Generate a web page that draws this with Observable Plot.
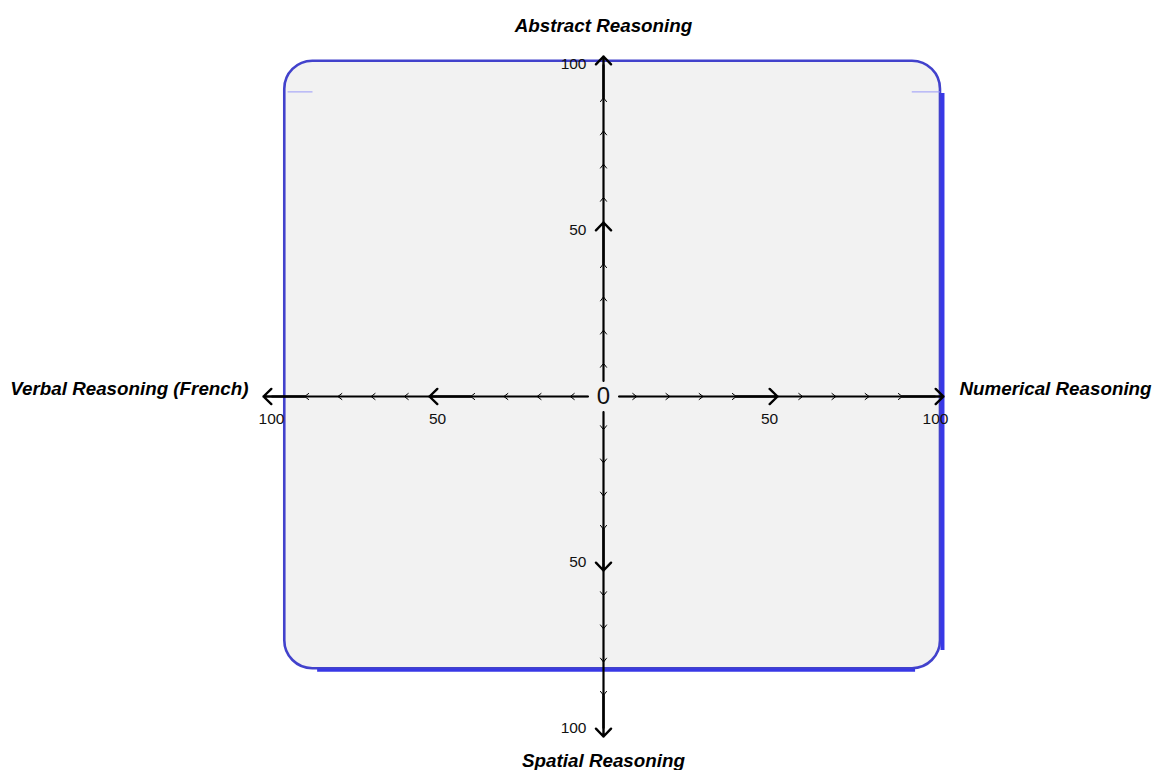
<!DOCTYPE html>
<html>
<head>
<meta charset="utf-8">
<script src="https://cdn.jsdelivr.net/npm/d3@7"></script>
<script src="https://cdn.jsdelivr.net/npm/@observablehq/plot@0.6"></script>
<style>
  html, body { margin: 0; padding: 0; background: #ffffff; }
  #chart svg { display: block; }
</style>
</head>
<body>
<div id="chart"></div>
<script>
// ---- data ----
const axisTitles = ["Abstract Reasoning", "Numerical Reasoning", "Spatial Reasoning", "Verbal Reasoning (French)"];
const directions = ["up", "right", "down", "left"];
const tickValues = [10, 20, 30, 40, 50, 60, 70, 80, 90, 100];
const majorTicks = [50, 100];
const labelValues = [50, 100];
const centerGap = 4.5;
const panelBounds = [-96, 101.5, -82, 101];      // x1, x2, y1, y2
const shadowRight = [101.5, 91.3, -76.5];          // x, y1, y2
const shadowBottom = [-82, -86.1, 94];             // y, x1, x2
const accentLines = [[91.9, -95, -87.5], [91.9, 93, 101.5]]; // y, x1, x2

// ---- build tables ----
const dirVec = {up: [0, 1], right: [1, 0], down: [0, -1], left: [-1, 0]};
const segments = [];
for (const d of directions) {
  const [ux, uy] = dirVec[d];
  tickValues.forEach((t, i) => {
    const s = i === 0 ? centerGap : tickValues[i - 1];
    segments.push({dir: d, x1: ux * s, y1: uy * s, x2: ux * t, y2: uy * t, major: majorTicks.includes(t)});
  });
}
const labels = [];
for (const d of directions) {
  const [ux, uy] = dirVec[d];
  for (const v of labelValues) labels.push({dir: d, x: ux * v, y: uy * v, text: String(v), horiz: uy === 0});
}
const titleSpecs = [
  {text: axisTitles[0], x: 0, y: 100, dx: 0, dy: -39, anchor: "middle"},
  {text: axisTitles[1], x: 100, y: 0, dx: 24, dy: -8, anchor: "start"},
  {text: axisTitles[2], x: 0, y: -100, dx: 0, dy: 32, anchor: "middle"},
  {text: axisTitles[3], x: -100, y: 0, dx: -23, dy: -8, anchor: "end"}
];
const panel = [{x1: panelBounds[0], x2: panelBounds[1], y1: panelBounds[2], y2: panelBounds[3]}];

const font = "'Liberation Sans', Arial, Helvetica, sans-serif";

const plot = Plot.plot({
  width: 1152,
  height: 770,
  marginLeft: 271,
  marginRight: 217,
  marginTop: 64,
  marginBottom: 42,
  x: {domain: [-100, 100], axis: null},
  y: {domain: [-100, 100], axis: null},
  style: {fontFamily: font, background: "transparent", overflow: "visible"},
  marks: [
    Plot.rect(panel, {x1: "x1", x2: "x2", y1: "y1", y2: "y2", rx: 28, ry: 28,
      fill: "#f2f2f2", stroke: "#4242cc", strokeWidth: 2.6}),
    Plot.ruleX([{x: shadowRight[0], y1: shadowRight[1], y2: shadowRight[2]}],
      {x: "x", y1: "y1", y2: "y2", dx: 2, stroke: "#3838e6", strokeWidth: 4}),
    Plot.ruleY([{y: shadowBottom[0], x1: shadowBottom[1], x2: shadowBottom[2]}],
      {y: "y", x1: "x1", x2: "x2", dy: 1.5, stroke: "#3838e6", strokeWidth: 3}),
    Plot.ruleY(accentLines.map(([y, x1, x2]) => ({y, x1, x2})),
      {y: "y", x1: "x1", x2: "x2", dy: 0.5, stroke: "#9a9af8", strokeWidth: 1}),
    // shafts
    Plot.link(segments, {x1: "x1", y1: "y1", x2: "x2", y2: "y2", stroke: "#000", strokeWidth: 2.2}),
    // small arrowheads
    Plot.arrow(segments.filter(d => !d.major), {x1: "x1", y1: "y1", x2: "x2", y2: "y2",
      stroke: "#000", strokeWidth: 1, headLength: 7.5, headAngle: 75}),
    // major arrowheads
    Plot.arrow(segments.filter(d => d.major), {x1: "x1", y1: "y1", x2: "x2", y2: "y2",
      stroke: "#000", strokeWidth: 2.4, headLength: 6.8, headAngle: 88, insetEnd: -8}),
    // tick labels
    Plot.text(labels.filter(d => d.horiz), {x: "x", y: "y", text: "text", dy: 23,
      textAnchor: "middle", fontSize: 15.5, fill: "#111"}),
    Plot.text(labels.filter(d => !d.horiz), {x: "x", y: "y", text: "text", dx: -17,
      textAnchor: "end", fontSize: 15.5, fill: "#111"}),
    Plot.text([{x: 0, y: 0, text: "0"}], {x: "x", y: "y", text: "text", fontSize: 24, fill: "#111"}),
    // axis titles
    ...titleSpecs.map(t => Plot.text([t], {x: "x", y: "y", text: "text", dx: t.dx, dy: t.dy,
      textAnchor: t.anchor, fontSize: 18.8, fontWeight: "bold", fontStyle: "italic", fill: "#000"}))
  ]
});
document.getElementById("chart").append(plot);
</script>
</body>
</html>
